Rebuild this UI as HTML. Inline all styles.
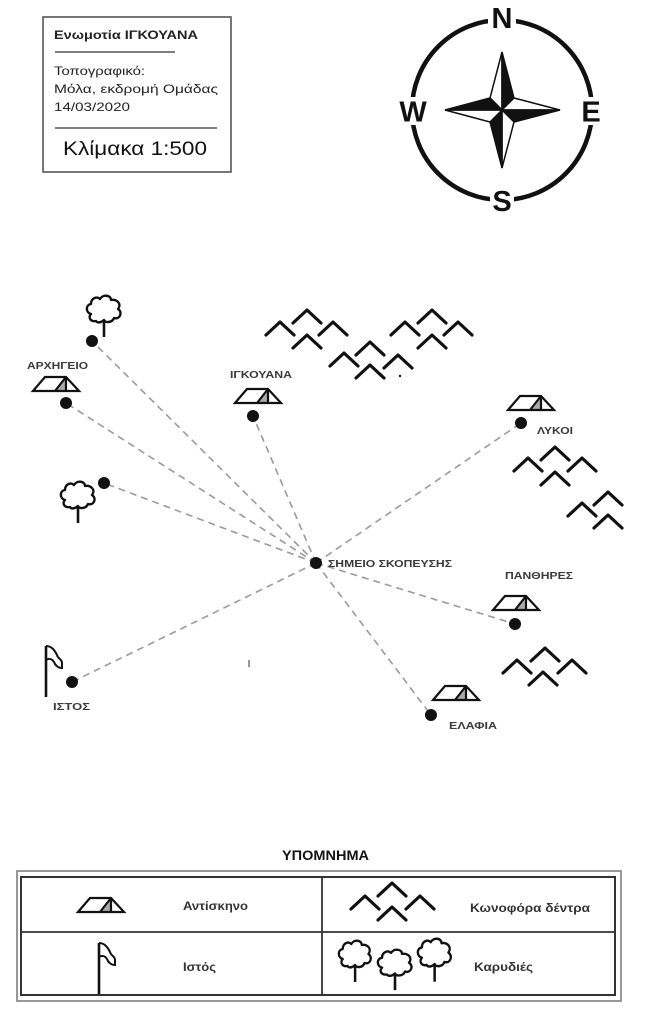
<!DOCTYPE html>
<html>
<head>
<meta charset="utf-8">
<style>
html,body{margin:0;padding:0;background:#fff;}
svg{display:block;}
text{font-family:"Liberation Sans","DejaVu Sans",sans-serif;}
</style>
</head>
<body>
<svg width="647" height="1024" viewBox="0 0 647 1024" xmlns="http://www.w3.org/2000/svg">
<defs>
  <g id="tent">
    <polygon points="33,1 22,15 33,15" fill="#aaa"/>
    <path d="M0,15 L12,1 L33,1 L46,15 Z M33,1 L22,15 M33,1 L33,15" fill="none" stroke="#111" stroke-width="2.2" stroke-linejoin="miter"/>
  </g>
  <g id="tree">
    <path d="M10,26 C4,27 2,22 5,19 C0,18 -1,10 5,9 C5,3 11,1 14,4 C17,-1 25,0 25,5 C31,4 36,9 32,14 C37,17 34,25 28,23 C26,28 19,28 18,25 C15,28 11,28 10,26 Z" fill="none" stroke="#111" stroke-width="2.4" stroke-linejoin="round"/>
    <path d="M18,25 L18,42" stroke="#111" stroke-width="2.6"/>
  </g>
  <path id="chev" d="M-14,13 L0,0 L14,13" fill="none" stroke="#111" stroke-width="3.2" stroke-linecap="round" stroke-linejoin="round"/>
  <g id="flag">
    <path d="M46,646 L46,697" stroke="#111" stroke-width="2.6"/>
    <path d="M46,646 C52,646 55,651 57,655 C58,659 62,659 62,663 L62,668 C58,668 55,665 54,662 C52,659 49,658 46,660" fill="none" stroke="#111" stroke-width="2"/>
  </g>
</defs>
<rect width="647" height="1024" fill="#fff"/>

<!-- Info box -->
<rect x="43" y="17" width="188" height="155" fill="none" stroke="#555" stroke-width="1.6"/>
<text x="54" y="39" font-size="12" fill="#222" textLength="144" lengthAdjust="spacingAndGlyphs" font-weight="bold">Ενωμοτία ΙΓΚΟΥΑΝΑ</text>
<line x1="55" y1="52" x2="175" y2="52" stroke="#555" stroke-width="1.6"/>
<text x="54" y="75" font-size="12" fill="#222" textLength="91" lengthAdjust="spacingAndGlyphs">Τοπογραφικό:</text>
<text x="54" y="93" font-size="12" fill="#222" textLength="164" lengthAdjust="spacingAndGlyphs">Μόλα, εκδρομή Ομάδας</text>
<text x="54" y="111" font-size="12" fill="#222" textLength="76" lengthAdjust="spacingAndGlyphs">14/03/2020</text>
<line x1="55" y1="128" x2="217" y2="128" stroke="#555" stroke-width="1.6"/>
<text x="63" y="155" font-size="19" fill="#111" textLength="144" lengthAdjust="spacingAndGlyphs">Κλίμακα 1:500</text>

<!-- Compass -->
<circle cx="502" cy="110" r="90" fill="none" stroke="#111" stroke-width="4.5"/>
<rect x="488" y="4" width="28" height="28" fill="#fff"/>
<rect x="398" y="97" width="30" height="28" fill="#fff"/>
<rect x="579" y="97" width="24" height="28" fill="#fff"/>
<rect x="490" y="186" width="24" height="30" fill="#fff"/>
<text x="502" y="28" font-size="29" font-weight="bold" fill="#111" text-anchor="middle">N</text>
<text x="413" y="121.5" font-size="29" font-weight="bold" fill="#111" text-anchor="middle">W</text>
<text x="591" y="121.5" font-size="29" font-weight="bold" fill="#111" text-anchor="middle">E</text>
<text x="502" y="211" font-size="29" font-weight="bold" fill="#111" text-anchor="middle">S</text>
<g stroke="#111" stroke-width="1.5" stroke-linejoin="miter">
  <polygon points="502,52 490,98 502,110" fill="#fff"/>
  <polygon points="502,52 502,110 514,98" fill="#111"/>
  <polygon points="560,110 514,98 502,110" fill="#fff"/>
  <polygon points="560,110 502,110 514,122" fill="#111"/>
  <polygon points="502,168 514,122 502,110" fill="#fff"/>
  <polygon points="502,168 502,110 490,122" fill="#111"/>
  <polygon points="445,110 490,122 502,110" fill="#fff"/>
  <polygon points="445,110 502,110 490,98" fill="#111"/>
</g>

<!-- Dashed sight lines -->
<g stroke="#9a9a9a" stroke-width="1.6" stroke-dasharray="7 5" fill="none">
  <line x1="316" y1="563" x2="92" y2="341"/>
  <line x1="316" y1="563" x2="66" y2="403"/>
  <line x1="316" y1="563" x2="253" y2="416"/>
  <line x1="316" y1="563" x2="104" y2="483"/>
  <line x1="316" y1="563" x2="521" y2="423"/>
  <line x1="316" y1="563" x2="515" y2="624"/>
  <line x1="316" y1="563" x2="431" y2="715"/>
  <line x1="316" y1="563" x2="72" y2="682"/>
</g>

<!-- Dots -->
<g fill="#111">
  <circle cx="92" cy="341" r="6"/>
  <circle cx="66" cy="403" r="6"/>
  <circle cx="253" cy="416" r="6"/>
  <circle cx="104" cy="483" r="6"/>
  <circle cx="521" cy="423" r="6"/>
  <circle cx="316" cy="563" r="6"/>
  <circle cx="515" cy="624" r="6"/>
  <circle cx="431" cy="715" r="6"/>
  <circle cx="72" cy="682" r="6"/>
  <circle cx="400" cy="376" r="1.2"/>
</g>
<line x1="249" y1="660" x2="249" y2="667" stroke="#555" stroke-width="1.2"/>

<!-- Trees on map -->
<use href="#tree" transform="translate(86,295)"/>
<use href="#tree" transform="translate(60,481)"/>

<!-- Tents on map -->
<use href="#tent" transform="translate(33,376)"/>
<use href="#tent" transform="translate(235,388)"/>
<use href="#tent" transform="translate(508,395)"/>
<use href="#tent" transform="translate(493,595)"/>
<use href="#tent" transform="translate(433,685)"/>

<!-- Flag on map -->
<use href="#flag"/>

<!-- Conifers on map -->
<use href="#chev" x="307" y="310"/>
<use href="#chev" x="280" y="322"/>
<use href="#chev" x="333" y="322"/>
<use href="#chev" x="307" y="335"/>

<use href="#chev" x="370" y="342"/>
<use href="#chev" x="344" y="353"/>
<use href="#chev" x="398" y="355"/>
<use href="#chev" x="370" y="365"/>

<use href="#chev" x="432" y="310"/>
<use href="#chev" x="405" y="322"/>
<use href="#chev" x="458" y="322"/>
<use href="#chev" x="432" y="335"/>

<use href="#chev" x="555" y="447"/>
<use href="#chev" x="528" y="458"/>
<use href="#chev" x="582" y="458"/>
<use href="#chev" x="555" y="472"/>

<use href="#chev" x="608" y="492"/>
<use href="#chev" x="582" y="503"/>
<use href="#chev" x="608" y="515"/>

<use href="#chev" x="545" y="648"/>
<use href="#chev" x="517" y="660"/>
<use href="#chev" x="572" y="660"/>
<use href="#chev" x="543" y="672"/>

<!-- Map labels -->
<g font-size="10.5" font-weight="bold" fill="#3a3a3a">
  <text x="27" y="369" textLength="61" lengthAdjust="spacingAndGlyphs">ΑΡΧΗΓΕΙΟ</text>
  <text x="230" y="378" textLength="62" lengthAdjust="spacingAndGlyphs">ΙΓΚΟΥΑΝΑ</text>
  <text x="537" y="434" textLength="36" lengthAdjust="spacingAndGlyphs">ΛΥΚΟΙ</text>
  <text x="328" y="567" textLength="124" lengthAdjust="spacingAndGlyphs">ΣΗΜΕΙΟ ΣΚΟΠΕΥΣΗΣ</text>
  <text x="505" y="579" textLength="68" lengthAdjust="spacingAndGlyphs">ΠΑΝΘΗΡΕΣ</text>
  <text x="449" y="729" textLength="48" lengthAdjust="spacingAndGlyphs">ΕΛΑΦΙΑ</text>
  <text x="53" y="710" textLength="37" lengthAdjust="spacingAndGlyphs">ΙΣΤΟΣ</text>
</g>

<!-- Legend -->
<text x="282" y="860" font-size="14" font-weight="bold" fill="#111" textLength="87" lengthAdjust="spacingAndGlyphs">ΥΠΟΜΝΗΜΑ</text>
<rect x="17" y="871" width="604" height="130" fill="none" stroke="#777" stroke-width="1.5"/>
<rect x="21" y="877" width="594" height="118" fill="none" stroke="#333" stroke-width="2"/>
<line x1="322" y1="877" x2="322" y2="995" stroke="#333" stroke-width="1.8"/>
<line x1="21" y1="932" x2="615" y2="932" stroke="#333" stroke-width="1.8"/>

<use href="#tent" transform="translate(78,897)"/>
<use href="#flag" transform="translate(53,297)"/>

<use href="#chev" x="392" y="883"/>
<use href="#chev" x="365" y="896"/>
<use href="#chev" x="420" y="896"/>
<use href="#chev" x="392" y="907"/>

<use href="#tree" transform="translate(338,940) scale(0.95,1)"/>
<use href="#tree" transform="translate(377,949) scale(1,0.98)"/>
<use href="#tree" transform="translate(417,938) scale(0.98,1.04)"/>

<g font-size="11.5" font-weight="bold" fill="#333">
  <text x="183" y="910" textLength="65" lengthAdjust="spacingAndGlyphs">Αντίσκηνο</text>
  <text x="183" y="971" textLength="33" lengthAdjust="spacingAndGlyphs">Ιστός</text>
  <text x="470" y="912" textLength="120" lengthAdjust="spacingAndGlyphs">Κωνοφόρα δέντρα</text>
  <text x="474" y="971" textLength="59" lengthAdjust="spacingAndGlyphs">Καρυδιές</text>
</g>
</svg>
</body>
</html>
